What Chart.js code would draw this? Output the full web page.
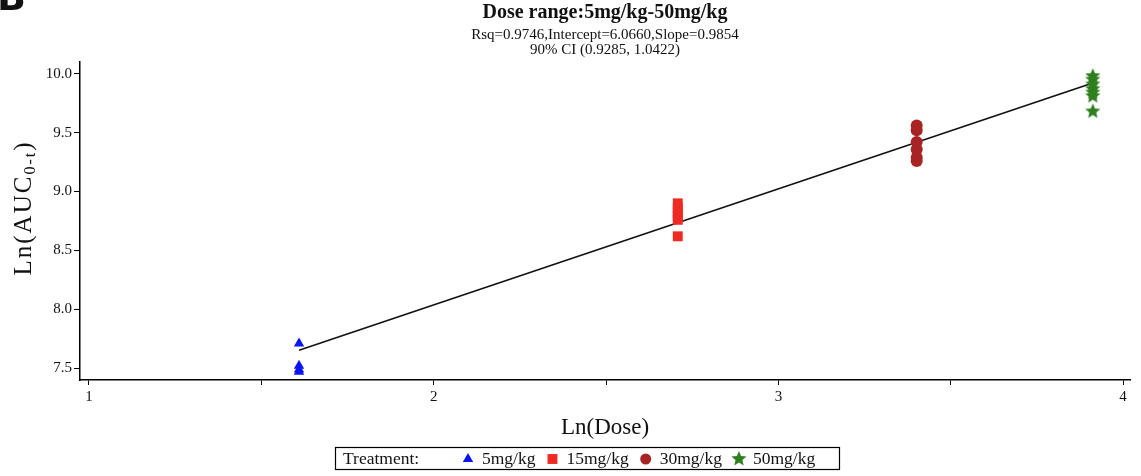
<!DOCTYPE html>
<html lang="en">
<head>
<meta charset="UTF-8" />
<style>
  html, body { margin: 0; padding: 0; background: #fff; }
</style>
</head>
<body>
<canvas id="myChart" width="1141" height="476"></canvas>
<script src="https://cdn.jsdelivr.net/npm/chart.js@4.4.0/dist/chart.umd.min.js"></script>
<script>
// data
var lnDose = [1.6094, 2.7081, 3.4012, 3.9120];
var doseLabels = ["5mg/kg", "15mg/kg", "30mg/kg", "50mg/kg"];
var auc5 = [7.71, 7.52, 7.49, 7.47];
var auc15 = [8.90, 8.86, 8.82, 8.79, 8.76, 8.62];
var auc30 = [9.56, 9.52, 9.42, 9.36, 9.29, 9.26];
var auc50 = [9.98, 9.95, 9.91, 9.87, 9.84, 9.81, 9.68];
var fitX = [1.6094, 3.9120];
var fitY = [7.652, 9.921];
var xTicks = [1, 1.5, 2, 2.5, 3, 3.5, 4];
var yTicks = [7.5, 8, 8.5, 9, 9.5, 10];

var SERIF = "'Liberation Serif', 'DejaVu Serif', serif";

function pts(x, ys) {
  return ys.map(function (y) { return { x: x, y: y }; });
}

// filled five point star (chart.js "star" is only an outline)
function starCanvas(r, color) {
  var c = document.createElement("canvas");
  c.width = c.height = 2 * r + 2;
  var g = c.getContext("2d");
  g.beginPath();
  for (var i = 0; i < 10; i++) {
    var rad = i % 2 ? r * 0.45 : r;
    var a = -Math.PI / 2 + i * Math.PI / 5;
    g.lineTo(r + 1 + rad * Math.cos(a), r + 1 + rad * Math.sin(a));
  }
  g.closePath();
  g.fillStyle = color;
  g.fill();
  return c;
}
var star = starCanvas(8, "#2f7f1f");

// titles, y label with subscript and the boxed legend
var decor = {
  id: "decor",
  afterDraw: function (chart) {
    var ctx = chart.ctx, ca = chart.chartArea;
    var cx = (ca.left + ca.right) / 2;
    ctx.save();
    ctx.fillStyle = "#111";
    ctx.textBaseline = "middle";

    ctx.font = "bold 38px 'DejaVu Sans', sans-serif";
    ctx.textAlign = "left";
    ctx.fillText("B", -3, 0);

    ctx.textAlign = "center";
    ctx.font = "bold 20px " + SERIF;
    ctx.fillText("Dose range:5mg/kg-50mg/kg", cx, 13);
    ctx.font = "15px " + SERIF;
    ctx.fillText("Rsq=0.9746,Intercept=6.0660,Slope=0.9854", cx, 35);
    ctx.fillText("90% CI (0.9285, 1.0422)", cx, 50);

    ctx.font = "23px " + SERIF;
    ctx.fillText("Ln(Dose)", cx, 428);

    // y axis title
    ctx.save();
    ctx.translate(24, 208);
    ctx.rotate(-Math.PI / 2);
    ctx.letterSpacing = "2px";
    ctx.font = "25px " + SERIF;
    var a = "Ln(AUC", b = "0-t", c = ")";
    var wa = ctx.measureText(a).width, wc = ctx.measureText(c).width;
    ctx.font = "16px " + SERIF;
    var wb = ctx.measureText(b).width;
    var x0 = -(wa + wb + wc) / 2;
    ctx.textAlign = "left";
    ctx.font = "25px " + SERIF;
    ctx.fillText(a, x0, 0);
    ctx.font = "16px " + SERIF;
    ctx.fillText(b, x0 + wa, 7);
    ctx.font = "25px " + SERIF;
    ctx.fillText(c, x0 + wa + wb, 0);
    ctx.restore();

    // legend
    var lx = 335, ly = 447, lw = 504, lh = 22;
    ctx.strokeStyle = "#000";
    ctx.lineWidth = 1.2;
    ctx.strokeRect(lx + 0.5, ly + 0.5, lw, lh);
    ctx.font = "17.5px " + SERIF;
    ctx.textAlign = "left";
    var my = ly + lh / 2 + 1;
    ctx.fillText("Treatment:", lx + 8, my);
    var x = lx + 133;
    chart.data.datasets.forEach(function (ds) {
      if (!ds.inLegend) return;
      ctx.fillStyle = ds.backgroundColor;
      Chart.helpers.drawPoint(ctx, {
        pointStyle: ds.pointStyle, radius: ds.legendRadius, rotation: 0, borderWidth: 0
      }, x, my);
      ctx.fillStyle = "#111";
      ctx.fillText(ds.label, x + 14, my);
      x += 14 + ctx.measureText(ds.label).width + 17;
    });
    ctx.restore();
  }
};

var ctx = document.getElementById("myChart").getContext("2d");
var chart = new Chart(ctx, {
  type: "scatter",
  data: {
    datasets: [
      {
        label: doseLabels[0], data: pts(lnDose[0], auc5), inLegend: true,
        pointStyle: "triangle", pointRadius: 6, legendRadius: 6,
        backgroundColor: "#0a14f0", borderColor: "#0a14f0", borderWidth: 0
      },
      {
        label: doseLabels[1], data: pts(lnDose[1], auc15), inLegend: true,
        pointStyle: "rect", pointRadius: 7, legendRadius: 7,
        backgroundColor: "#ee2a22", borderColor: "#ee2a22", borderWidth: 0
      },
      {
        label: doseLabels[2], data: pts(lnDose[2], auc30), inLegend: true,
        pointStyle: "circle", pointRadius: 6, legendRadius: 5.5,
        backgroundColor: "#a82424", borderColor: "#a82424", borderWidth: 0
      },
      {
        label: doseLabels[3], data: pts(lnDose[3], auc50), inLegend: true,
        pointStyle: star, pointRadius: 8, legendRadius: 8,
        backgroundColor: "#2f7f1f", borderColor: "#2f7f1f", borderWidth: 0
      },
      {
        label: "fit", type: "line", order: 1,
        data: [{ x: fitX[0], y: fitY[0] }, { x: fitX[1], y: fitY[1] }],
        borderColor: "#111", borderWidth: 1.6, pointRadius: 0, fill: false
      }
    ]
  },
  options: {
    responsive: false,
    animation: false,
    layout: { padding: { top: 62, right: 11, left: 0, bottom: 0 } },
    plugins: {
      legend: { display: false },
      tooltip: { enabled: false }
    },
    scales: {
      x: {
        type: "linear",
        min: 0.974,
        max: 4.02,
        afterBuildTicks: function (s) { s.ticks = xTicks.map(function (v) { return { value: v }; }); },
        afterFit: function (s) { s.height = 96; },
        ticks: {
          callback: function (v) { return Number.isInteger(v) ? String(v) : ""; },
          font: { family: SERIF, size: 15 },
          color: "#111",
          padding: 3,
          maxRotation: 0,
          autoSkip: false
        },
        grid: { drawOnChartArea: false, tickLength: 5, color: "#000", lineWidth: 1 },
        border: { color: "#000", width: 1.5 }
      },
      y: {
        min: 7.40,
        max: 10.10,
        afterBuildTicks: function (s) { s.ticks = yTicks.map(function (v) { return { value: v }; }); },
        afterFit: function (s) { s.width = 80; },
        ticks: {
          callback: function (v) { return v.toFixed(1); },
          font: { family: SERIF, size: 15 },
          color: "#111",
          padding: 2,
          autoSkip: false
        },
        grid: { drawOnChartArea: false, tickLength: 6, color: "#000", lineWidth: 1 },
        border: { color: "#000", width: 1.5 }
      }
    }
  },
  plugins: [decor]
});
</script>
</body>
</html>
